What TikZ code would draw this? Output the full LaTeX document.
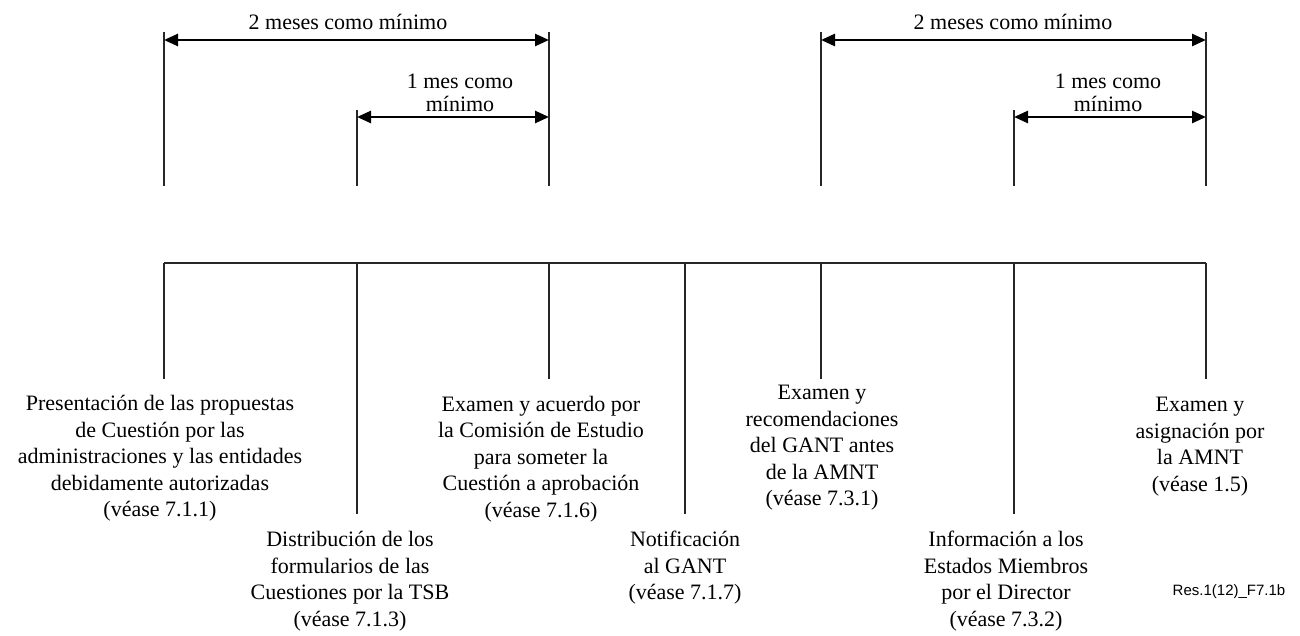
\documentclass[tikz,border=0pt]{standalone}
\usepackage{fontspec}
\setmainfont{Liberation Serif}
\newfontfamily\labsans{Liberation Sans}
\usetikzlibrary{arrows.meta}
\tikzset{
  tick/.style={line width=1.4pt, black!85},
  span/.style={line width=2.6pt, {Triangle[length=14pt,width=12pt]}-{Triangle[length=14pt,width=12pt]}},
  lbl/.style={font=\fontsize{22}{26.5}\selectfont, align=center, inner sep=0pt},
  toplbl/.style={font=\fontsize{22}{23}\selectfont, align=center, inner sep=0pt, anchor=south},
  blk/.style={lbl, anchor=north},
  refl/.style={font=\labsans\fontsize{15}{18}\selectfont, inner sep=0pt}
}
\begin{document}
\begin{tikzpicture}[x=1pt,y=-1pt]
\useasboundingbox (0,0) rectangle (1300,636);
% top tick coordinates
\coordinate (aT) at (164,32);  \coordinate (aB) at (164,186);
\coordinate (bT) at (357,110); \coordinate (bB) at (357,186);
\coordinate (cT) at (549,32);  \coordinate (cB) at (549,186);
\coordinate (eT) at (821,32);  \coordinate (eB) at (821,186);
\coordinate (fT) at (1014,110);\coordinate (fB) at (1014,186);
\coordinate (gT) at (1206,32); \coordinate (gB) at (1206,186);
\foreach \p in {a,b,c,e,f,g} \draw[tick] (\p T) -- (\p B);
% arrows
\coordinate (a2) at (164,40);  \coordinate (c2) at (549,40);
\coordinate (b1) at (357,117); \coordinate (c1) at (549,117);
\coordinate (e2) at (821,40);  \coordinate (g2) at (1206,40);
\coordinate (f1) at (1014,117);\coordinate (g1) at (1206,117);
\draw[span] (a2) -- (c2);
\draw[span] (b1) -- (c1);
\draw[span] (e2) -- (g2);
\draw[span] (f1) -- (g1);
\node[lbl] (l2a) at (348,22) {2 meses como mínimo};
\node[lbl] (l2b) at (1013,22) {2 meses como mínimo};
\node[toplbl] (l1a) at (460,112) {1 mes como\\mínimo};
\node[toplbl] (l1b) at (1108,112) {1 mes como\\mínimo};
% timeline
\coordinate (h1) at (164,263); \coordinate (h2) at (357,263);
\coordinate (h3) at (549,263); \coordinate (h4) at (685,263);
\coordinate (h5) at (821,263); \coordinate (h6) at (1014,263);
\coordinate (h7) at (1206,263);
\draw[tick] (h1) -- (h7);
\coordinate (d1) at (164,379); \coordinate (d2) at (357,514);
\coordinate (d3) at (549,379); \coordinate (d4) at (685,514);
\coordinate (d5) at (821,379); \coordinate (d6) at (1014,514);
\coordinate (d7) at (1206,379);
\foreach \i in {1,...,7} \draw[tick] (h\i) -- (d\i);
% texts
\node[blk] (n1) at (160,395) {Presentación de las propuestas\\de Cuestión por las\\administraciones y las entidades\\debidamente autorizadas\\(véase 7.1.1)};
\node[blk] (n2) at (350,531) {Distribución de los\\formularios de las\\Cuestiones por la TSB\\(véase 7.1.3)};
\node[blk] (n3) at (541,396) {Examen y acuerdo por\\la Comisión de Estudio\\para someter la\\Cuestión a aprobación\\(véase 7.1.6)};
\node[blk] (n4) at (685,531) {Notificación\\al GANT\\(véase 7.1.7)};
\node[blk] (n5) at (822,385) {Examen y\\recomendaciones\\del GANT antes\\de la AMNT\\(véase 7.3.1)};
\node[blk] (n6) at (1006,531) {Información a los\\Estados Miembros\\por el Director\\(véase 7.3.2)};
\node[blk] (n7) at (1200,397) {Examen y\\asignación por\\la AMNT\\(véase 1.5)};
\node[refl] (ref) at (1229,592) {Res.1(12)\_F7.1b};
\end{tikzpicture}
\end{document}
